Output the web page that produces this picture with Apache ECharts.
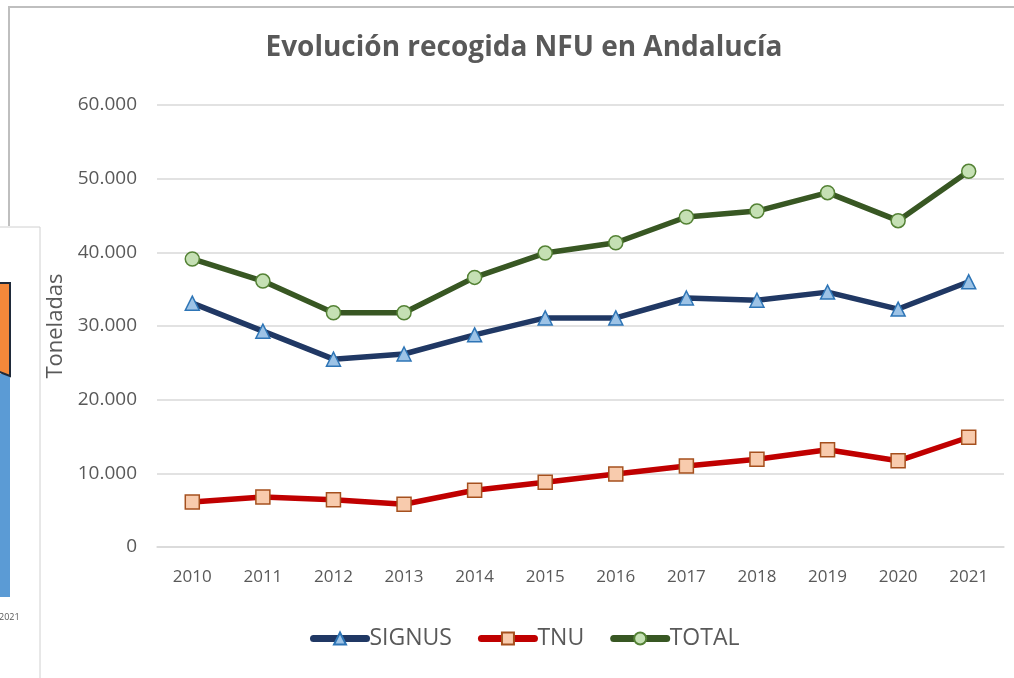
<!DOCTYPE html>
<html>
<head>
<meta charset="utf-8">
<script src="https://cdn.jsdelivr.net/npm/echarts@6/dist/echarts.min.js"></script>
<style>
html, body { margin: 0; padding: 0; background: #fff; }
#chart { width: 1014px; height: 678px; }
</style>
</head>
<body>
<div id="chart"></div>
<script>
// datos (toneladas)
var years = ['2010', '2011', '2012', '2013', '2014', '2015', '2016', '2017', '2018', '2019', '2020', '2021'];
var signus = [33100, 29300, 25500, 26200, 28800, 31100, 31100, 33800, 33500, 34600, 32300, 36000];
var tnu = [6100, 6800, 6400, 5800, 7700, 8800, 9900, 11000, 11900, 13200, 11700, 14900];
var total = [39100, 36100, 31800, 31800, 36600, 39900, 41300, 44800, 45600, 48100, 44300, 51000];

var font = '"Open Sans", "Noto Sans", sans-serif';
var grey = '#595959';

function fmt(v) { // separador de miles con punto
	return String(v).replace(/\B(?=(\d{3})+(?!\d))/g, '.');
}

function lineSeries(name, data, symbol, lineColor, fill, border) {
	return {
		name: name,
		type: 'line',
		data: data,
		symbol: symbol,
		symbolSize: 14,
		showAllSymbol: true,
		lineStyle: { color: lineColor, width: 5.5 },
		itemStyle: { color: fill, borderColor: border, borderWidth: 1.5 },
		emphasis: { disabled: true },
		z: 3
	};
}

var myChart = echarts.init(document.getElementById('chart'));
myChart.setOption({
	animation: false,
	title: {
		text: 'Evolución recogida NFU en Andalucía',
		left: 519,
		textAlign: 'center',
		top: 29,
		textStyle: { fontFamily: font, fontSize: 28, fontWeight: 'bold', color: grey }
	},
	legend: {
		bottom: 23,
		left: 305,
		itemWidth: 53,
		itemHeight: 15,
		itemGap: 26,
		lineStyle: { width: 7, cap: 'round' },
		textStyle: { fontFamily: font, fontSize: 23, color: grey, padding: [0, 0, 0, -2] },
		data: ['SIGNUS', 'TNU', 'TOTAL']
	},
	grid: { left: 157, right: 10, top: 105, bottom: 131 },
	xAxis: {
		type: 'category',
		data: years,
		axisLine: { lineStyle: { color: '#d9d9d9', width: 1.5 } },
		axisTick: { show: false },
		axisLabel: { fontFamily: font, fontSize: 17, color: grey, margin: 22 }
	},
	yAxis: {
		type: 'value',
		min: 0,
		max: 60000,
		interval: 10000,
		name: 'Toneladas',
		nameLocation: 'middle',
		nameGap: 88,
		nameTextStyle: { fontFamily: font, fontSize: 22, color: grey },
		axisLine: { show: false },
		axisTick: { show: false },
		splitLine: { lineStyle: { color: '#d9d9d9', width: 1.5 } },
		axisLabel: { fontFamily: font, fontSize: 19, color: grey, margin: 20, formatter: fmt }
	},
	series: [
		lineSeries('SIGNUS', signus, 'triangle', '#203864', '#9dc3e6', '#2e75b6'),
		lineSeries('TNU', tnu, 'rect', '#c00000', '#f8cbad', '#a5501e'),
		lineSeries('TOTAL', total, 'circle', '#385723', '#c5e0b4', '#548235')
	],
	graphic: [
		// marco del gráfico
		{ type: 'polyline', shape: { points: [[9, 226], [9, 7], [1014, 7]] }, style: { stroke: '#bfbfbf', lineWidth: 2, fill: null }, silent: true },
		// recorte de otro gráfico superpuesto a la izquierda
		{ type: 'rect', shape: { x: -2, y: 227, width: 42, height: 460 }, style: { fill: '#fff', stroke: '#d0d0d0', lineWidth: 1 }, silent: true, z: 10 },
		{ type: 'rect', shape: { x: 0, y: 374, width: 10, height: 223 }, style: { fill: '#5b9bd5' }, silent: true, z: 11 },
		{ type: 'polygon', shape: { points: [[-3, 283], [10, 283], [10, 376], [-3, 371]] }, style: { fill: '#f4883a', stroke: '#1f2a3a', lineWidth: 2 }, silent: true, z: 12 },
		{ type: 'text', x: -1, y: 613, style: { text: '2021', fontFamily: font, fontSize: 9, fill: grey }, silent: true, z: 12 }
	]
});
</script>
</body>
</html>
